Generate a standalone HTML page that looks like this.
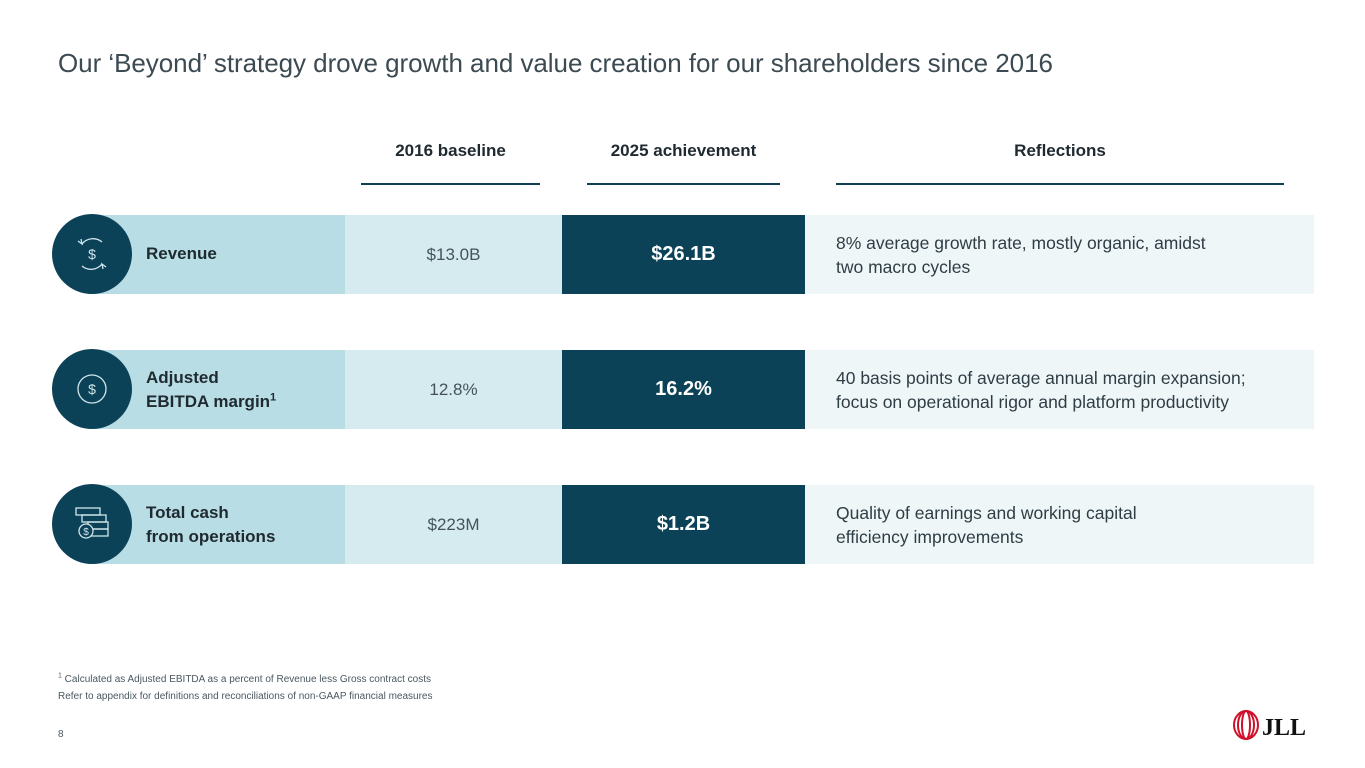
<!DOCTYPE html>
<html><head><meta charset="utf-8"><style>
body{margin:0;width:1365px;height:768px;background:#fff;font-family:"Liberation Sans",sans-serif;position:relative;overflow:hidden;color:#1f2a30}
.a{position:absolute}
.title{left:58px;top:48px;font-size:26px;color:#3c4a52;letter-spacing:-0.05px}
.hd{font-size:17px;font-weight:bold;color:#1f2a30;text-align:center}
.ln{height:2px;background:#0e3f52;top:183px}
.lab{background:#b9dde5;left:92px;width:253px;height:79px}
.base{background:#d6ebf0;left:345px;width:217px;height:79px;display:flex;align-items:center;justify-content:center;font-size:17px;color:#44535b}
.ach{background:#0c4257;left:562px;width:243px;height:79px;display:flex;align-items:center;justify-content:center;font-size:20px;font-weight:bold;color:#fff}
.ref{background:#eef6f8;left:805px;width:509px;height:79px;display:flex;align-items:center;font-size:17.5px;color:#2f3d45;line-height:24px}
.ref span{padding-left:31px}
.circ{left:52px;width:80px;height:80px;border-radius:50%;background:#0c4257}
.lt{left:146px;font-size:17px;font-weight:bold;color:#1f2a30;line-height:24px}
sup{line-height:0}
</style></head><body>
<div class="a title">Our ‘Beyond’ strategy drove growth and value creation for our shareholders since 2016</div>
<div class="a hd" style="left:361px;width:179px;top:141px">2016 baseline</div>
<div class="a hd" style="left:587px;width:193px;top:141px">2025 achievement</div>
<div class="a hd" style="left:836px;width:448px;top:141px">Reflections</div>
<div class="a ln" style="left:361px;width:179px"></div>
<div class="a ln" style="left:587px;width:193px"></div>
<div class="a ln" style="left:836px;width:448px"></div>

<!-- row 1 -->
<div class="a lab" style="top:215px"></div>
<div class="a base" style="top:215px">$13.0B</div>
<div class="a ach" style="top:215px">$26.1B</div>
<div class="a ref" style="top:215px"><span>8% average growth rate, mostly organic, amidst<br>two macro cycles</span></div>
<div class="a circ" style="top:214px">
<svg width="80" height="80" viewBox="0 0 80 80" fill="none" stroke="#cfe6ec" stroke-width="1.3"><path d="M30 30 A14 14 0 0 1 50 28"/><path d="M50 50 A14 14 0 0 1 30 52"/><path d="M26 27 l4 3 l-1 -5"/><path d="M54 53 l-4 -3 l1 5"/><text x="40" y="45" font-size="14" fill="#cfe6ec" stroke="none" text-anchor="middle" font-family="Liberation Sans">$</text></svg></div>
<div class="a lt" style="top:242px">Revenue</div>

<!-- row 2 -->
<div class="a lab" style="top:350px"></div>
<div class="a base" style="top:350px">12.8%</div>
<div class="a ach" style="top:350px">16.2%</div>
<div class="a ref" style="top:350px"><span>40 basis points of average annual margin expansion;<br>focus on operational rigor and platform productivity</span></div>
<div class="a circ" style="top:349px">
<svg width="80" height="80" viewBox="0 0 80 80" fill="none" stroke="#cfe6ec" stroke-width="1.3"><circle cx="40" cy="40" r="14"/><text x="40" y="45" font-size="14" fill="#cfe6ec" stroke="none" text-anchor="middle" font-family="Liberation Sans">$</text></svg></div>
<div class="a lt" style="top:366px">Adjusted<br>EBITDA margin<sup style="font-size:11px">1</sup></div>

<!-- row 3 -->
<div class="a lab" style="top:485px"></div>
<div class="a base" style="top:485px">$223M</div>
<div class="a ach" style="top:485px">$1.2B</div>
<div class="a ref" style="top:485px"><span>Quality of earnings and working capital<br>efficiency improvements</span></div>
<div class="a circ" style="top:484px">
<svg width="80" height="80" viewBox="0 0 80 80" fill="none" stroke="#cfe6ec" stroke-width="1.3"><rect x="24" y="24" width="24" height="7"/><rect x="30" y="31" width="24" height="7"/><rect x="36" y="38" width="20" height="7"/><rect x="36" y="45" width="20" height="7"/><circle cx="34" cy="47" r="7" fill="#0c4257"/><text x="34" y="51" font-size="10" fill="#cfe6ec" stroke="none" text-anchor="middle" font-family="Liberation Sans">$</text></svg></div>
<div class="a lt" style="top:501px">Total cash<br>from operations</div>

<div class="a" style="left:58px;top:671px;font-size:10px;color:#4a5860;line-height:17px"><sup style="font-size:7px">1</sup> Calculated as Adjusted EBITDA as a percent of Revenue less Gross contract costs<br>Refer to appendix for definitions and reconciliations of non-GAAP financial measures</div>
<div class="a" style="left:58px;top:729px;font-size:10px;color:#4a5860">8</div>
<div class="a" style="left:1232px;top:708px">
<svg width="80" height="34" viewBox="0 0 80 34" fill="none" stroke="#d0102b" stroke-width="2"><ellipse cx="14" cy="17" rx="12" ry="14"/><ellipse cx="14" cy="17" rx="8" ry="14"/><ellipse cx="14" cy="17" rx="4" ry="14"/><text x="30" y="27" font-size="24" font-weight="bold" fill="#111" stroke="none" font-family="Liberation Serif">JLL</text></svg></div>
</body></html>
